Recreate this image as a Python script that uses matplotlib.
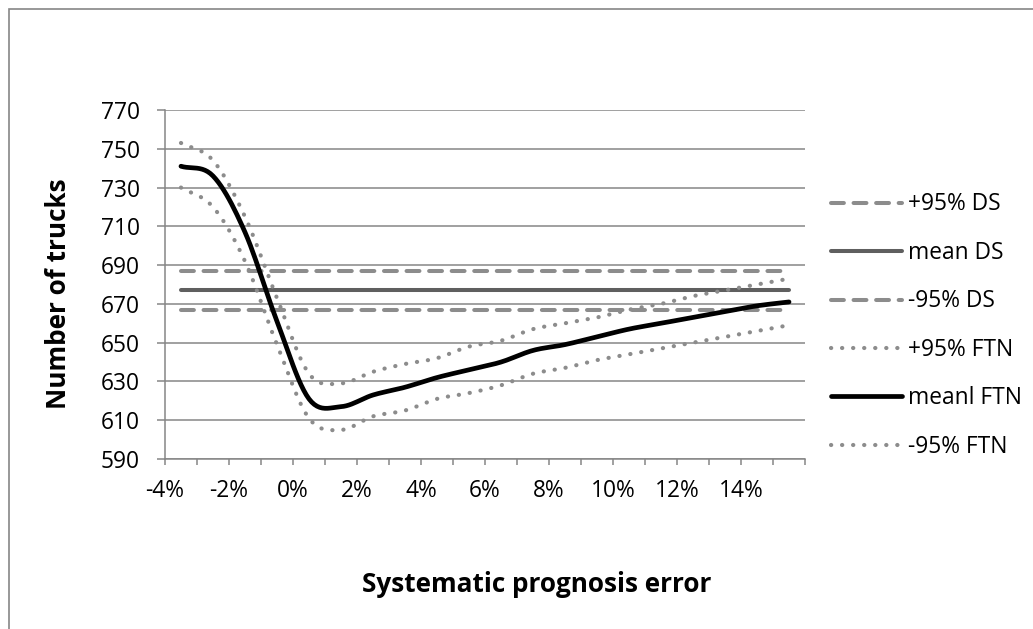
import numpy as np
import matplotlib
matplotlib.use('Agg')
import matplotlib.pyplot as plt
from matplotlib.patches import Rectangle

plt.rcParams['font.family'] = ['Open Sans', 'DejaVu Sans']

# x categories (systematic prognosis error, %), points sit in the middle of each category
error_pct = [-3.5, -2.5, -1.5, -0.5, 0.5, 1.5, 2.5, 3.5, 4.5, 5.5,
             6.5, 7.5, 8.5, 9.5, 10.5, 11.5, 12.5, 13.5, 14.5, 15.5]
tick_labels = ['-4%', '-2%', '0%', '2%', '4%', '6%', '8%', '10%', '12%', '14%']
tick_pos = [-4, -2, 0, 2, 4, 6, 8, 10, 12, 14]

# DS (constant)
ds_upper = 687
ds_mean = 677
ds_lower = 667

# FTN
ftn_upper = [753, 744, 715, 673, 634, 629, 635, 639, 642, 648,
             651, 657, 660, 663, 667, 670, 674, 677, 680, 683]
ftn_mean = [741, 736, 707, 661, 621, 617, 623, 627, 632, 636,
            640, 646, 649, 653, 657, 660, 663, 666, 669, 671]
ftn_lower = [730, 720, 692, 649, 611, 605, 612, 615, 621, 624,
             628, 634, 637, 641, 644, 647, 650, 653, 656, 659]


def smooth(xs, ys, steps=12):
    # Catmull-Rom curve through the points, like Excel's "smoothed line"
    x = np.asarray(xs, float)
    y = np.asarray(ys, float)
    px = np.concatenate([[2*x[0]-x[1]], x, [2*x[-1]-x[-2]]])
    py = np.concatenate([[2*y[0]-y[1]], y, [2*y[-1]-y[-2]]])
    t = np.linspace(0, 1, steps, endpoint=False)
    ox, oy = [], []
    for i in range(1, len(px) - 2):
        for p, o in ((px, ox), (py, oy)):
            p0, p1, p2, p3 = p[i-1], p[i], p[i+1], p[i+2]
            o.extend(0.5*((2*p1) + (-p0+p2)*t + (2*p0-5*p1+4*p2-p3)*t**2
                          + (-p0+3*p1-3*p2+p3)*t**3))
    ox.append(x[-1])
    oy.append(y[-1])
    return ox, oy


fig = plt.figure(figsize=(10.33, 6.29), dpi=100)
ax = fig.add_axes([0.1597, 0.2703, 0.6196, 0.5548])

fig.add_artist(Rectangle((9/1033, -0.1), 1.2, 1 - 9/629 + 0.1, transform=fig.transFigure,
                         fill=False, edgecolor='#868686', lw=1.2))

dash_grey = '#8c8c8c'
n = len(error_pct)
ax.plot(error_pct, [ds_upper]*n, color=dash_grey, lw=2.9, dashes=(3.2, 2.4),
        dash_capstyle='round', label='+95% DS')
ax.plot(error_pct, [ds_mean]*n, color='#5f5f5f', lw=2.9, solid_capstyle='round', label='mean DS')
ax.plot(error_pct, [ds_lower]*n, color=dash_grey, lw=2.9, dashes=(3.2, 2.4),
        dash_capstyle='round', label='-95% DS')
ax.plot(*smooth(error_pct, ftn_upper), color=dash_grey, lw=3.0, dashes=(0.05, 2.6),
        dash_capstyle='round', label='+95% FTN')
ax.plot(*smooth(error_pct, ftn_mean), color='black', lw=3.4, solid_capstyle='round',
        solid_joinstyle='round', label='meanl FTN')
ax.plot(*smooth(error_pct, ftn_lower), color=dash_grey, lw=3.0, dashes=(0.05, 2.6),
        dash_capstyle='round', label='-95% FTN')

ax.set_xlim(-4, 16)
ax.set_ylim(590, 770)
ax.set_yticks(range(590, 771, 20))
ax.set_xticks(tick_pos)
ax.set_xticklabels(tick_labels)
ax.set_xticks(range(-4, 17), minor=True)
ax.grid(axis='y', color='#868686', lw=1.1)
ax.set_axisbelow(True)

for s in ['top', 'right']:
    ax.spines[s].set_visible(False)
for s in ['left', 'bottom']:
    ax.spines[s].set_color('#868686')
    ax.spines[s].set_linewidth(1.1)

ax.tick_params(axis='y', length=6, width=1.1, color='#868686', pad=12, labelsize=16.4)
ax.tick_params(axis='x', which='both', length=4.3, width=1.1, color='#868686', pad=10, labelsize=16.4)

fig.text(58/1033, 1 - 294/629, 'Number of trucks', rotation=90, ha='center', va='center',
         fontsize=18.8, fontweight='bold')
fig.text(537/1033, 1 - 585/629, 'Systematic prognosis error', ha='center', va='center',
         fontsize=18.8, fontweight='bold')

ax.legend(loc='upper left', bbox_to_anchor=(831/1033, 1 - 192.5/629), bbox_transform=fig.transFigure,
          frameon=False, fontsize=16.4, handlelength=3.1, handletextpad=0.3,
          labelspacing=1.075, borderpad=0, borderaxespad=0)

fig.savefig('out.png', dpi=100)
